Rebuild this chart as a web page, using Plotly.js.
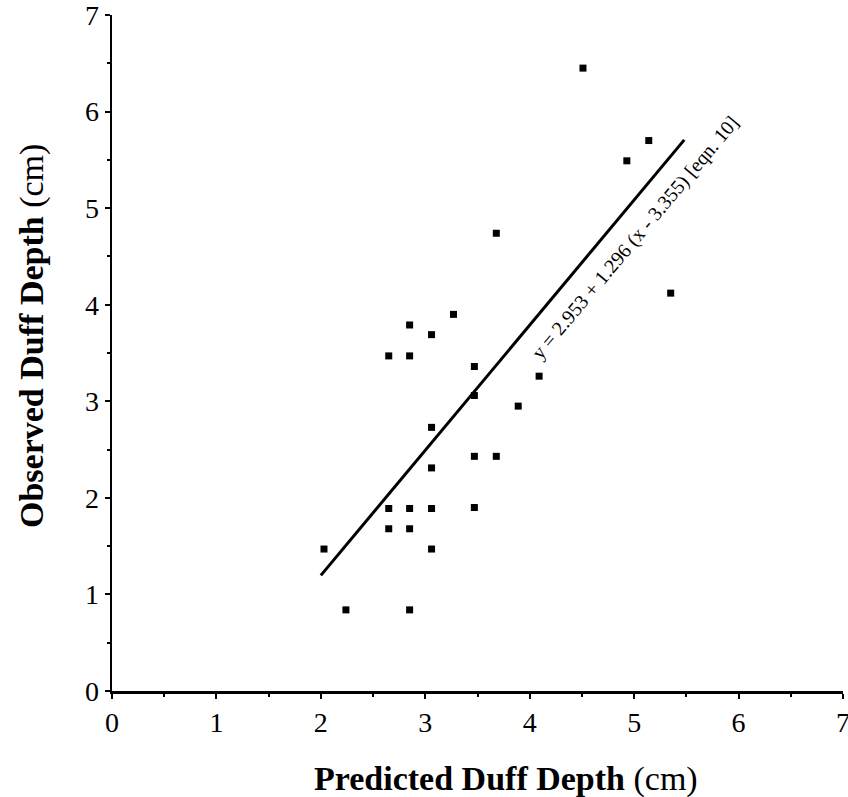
<!DOCTYPE html>
<html>
<head>
<meta charset="utf-8">
<script src="https://cdn.plot.ly/plotly-3.0.1.min.js"></script>
<style>html,body{margin:0;padding:0;background:#fff;}#chart{width:848px;height:797px;}</style>
</head>
<body>
<div id="chart"></div>
<script>
const predicted = [3.27, 2.85, 3.06, 2.65, 2.85, 3.47, 4.09, 3.47, 3.89, 3.06, 3.47, 3.68, 3.06, 2.65, 2.85, 3.06, 3.47, 2.65, 2.85, 2.03, 3.06, 2.24, 2.85, 4.51, 5.14, 4.93, 3.68, 5.35];
const observed  = [3.90, 3.79, 3.69, 3.47, 3.47, 3.36, 3.26, 3.06, 2.95, 2.73, 2.43, 2.43, 2.31, 1.89, 1.89, 1.89, 1.90, 1.68, 1.68, 1.47, 1.47, 0.84, 0.84, 6.45, 5.70, 5.49, 4.74, 4.12];
const fitX = [2.0, 5.48];
const fitIntercept = 2.953, fitSlope = 1.296, fitCenter = 3.355;
const fitY = fitX.map(x => fitIntercept + fitSlope * (x - fitCenter));
const eqnLabel = "y = 2.953 + 1.296 (x - 3.355) [eqn. 10]";
const xTitle = '<b>Predicted Duff Depth</b> (cm)';
const yTitle = '<b>Observed Duff Depth</b> (cm)';
const tickVals = [0, 1, 2, 3, 4, 5, 6, 7];

const font = "Liberation Serif, Times New Roman, serif";

const traces = [
  {x: predicted, y: observed, mode: 'markers', type: 'scatter',
   marker: {symbol: 'square', size: 7, color: '#000'}, hoverinfo: 'skip'},
  {x: fitX, y: fitY, mode: 'lines', type: 'scatter',
   line: {color: '#000', width: 3}, hoverinfo: 'skip'}
];

const axisCommon = {
  range: [0, 7], tickvals: tickVals, ticktext: tickVals.map(String),
  ticks: 'outside', ticklen: 5, tickwidth: 2, tickcolor: '#000',
  showline: true, linewidth: 2.5, linecolor: '#000',
  showgrid: false, zeroline: false, fixedrange: true,
  ticklabeloverflow: 'allow',
  tickfont: {family: font, size: 28, color: '#000'},
  minor: {dtick: 0.5, tick0: 0, ticks: 'outside', ticklen: 3, tickwidth: 2, tickcolor: '#000', showgrid: false}
};

const titleFont = {family: font, size: 34, color: '#000'};

const layout = {
  width: 848, height: 797,
  margin: {l: 112, r: 5, t: 15, b: 106},
  paper_bgcolor: '#fff', plot_bgcolor: '#fff',
  showlegend: false,
  xaxis: Object.assign({}, axisCommon),
  yaxis: Object.assign({}, axisCommon),
  annotations: [
    {x: 5.01, y: 4.70, xref: 'x', yref: 'y', text: eqnLabel, showarrow: false,
     textangle: -50, font: {family: font, size: 20, color: '#000'}},
    {x: 0, xref: 'paper', xshift: 394, xanchor: 'center',
     y: 0, yref: 'paper', yshift: -88, yanchor: 'middle',
     text: xTitle, showarrow: false, font: titleFont},
    {x: 0, xref: 'paper', xshift: -80, xanchor: 'center',
     y: 0, yref: 'paper', yshift: 355, yanchor: 'middle',
     text: yTitle, showarrow: false, textangle: -90, font: titleFont}
  ]
};

Plotly.newPlot('chart', traces, layout, {displayModeBar: false, staticPlot: true});
</script>
</body>
</html>
